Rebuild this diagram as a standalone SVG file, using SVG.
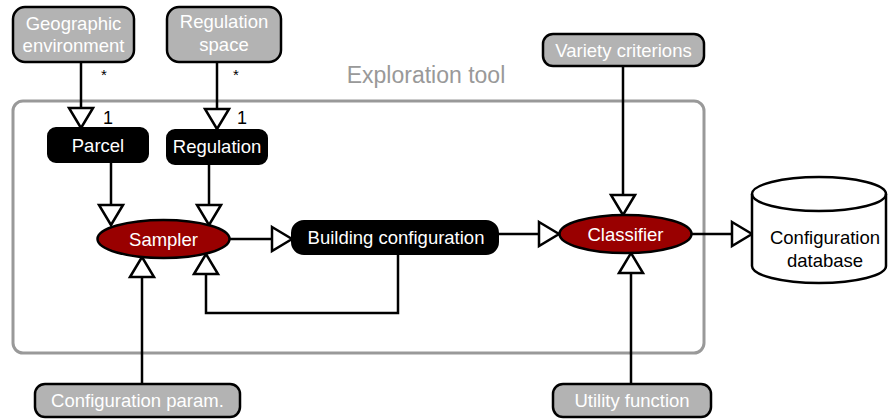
<svg xmlns="http://www.w3.org/2000/svg" width="888" height="419" viewBox="0 0 888 419">
<style>
text{font-family:"Liberation Sans",Arial,sans-serif;font-size:18.5px;text-anchor:middle}
.in rect{fill:#b3b3b3;stroke:#000;stroke-width:2.5}
.in text{fill:#fff}
.blk rect{fill:#000;stroke:#000;stroke-width:2}
.blk text{fill:#fff}
.proc ellipse{fill:#990000;stroke:#000;stroke-width:2.5}
.proc text{fill:#fff}
.conn path{fill:none;stroke:#000;stroke-width:2.5;marker-end:url(#tri)}
.lbl{fill:#000}
</style>
<defs>
<marker id="tri" markerUnits="userSpaceOnUse" markerWidth="30" markerHeight="30" viewBox="-3 -3 26 30" refX="20" refY="12" orient="auto" overflow="visible">
<path d="M0,0 L20,12 L0,24 Z" fill="#fff" stroke="#000" stroke-width="2.5" stroke-linejoin="miter"/>
</marker>
</defs>
<rect id="exploration-tool" x="13" y="101" width="691" height="252" rx="10" fill="none" stroke="#999" stroke-width="3"/>
<text x="426" y="83" style="font-size:23px;fill:#999">Exploration tool</text>
<g class="conn" id="connectors">
<path d="M81,63 L81,128"/>
<path d="M217,63 L217,129"/>
<path d="M111,162 L111,225"/>
<path d="M209,164 L209,225"/>
<path d="M230,239 L292,239"/>
<path d="M498,234 L559,234"/>
<path d="M398,254 L398,313 L206,313 L206,254"/>
<path d="M142,384 L142,257"/>
<path d="M623,66 L623,215"/>
<path d="M631,384 L631,253"/>
<path d="M692,234 L752,234"/>
<text class="lbl" x="104" y="80" style="font-size:15px">*</text>
<text class="lbl" x="236" y="80" style="font-size:15px">*</text>
<text class="lbl" x="108" y="124" style="font-size:18px">1</text>
<text class="lbl" x="242" y="124" style="font-size:18px">1</text>
</g>
<g id="geographic-environment" class="in">
<rect x="13" y="7" width="121" height="55" rx="12"/>
<text x="73.5" y="30">Geographic</text>
<text x="73.5" y="52">environment</text>
</g>
<g id="regulation-space" class="in">
<rect x="167" y="7" width="114" height="55" rx="12"/>
<text x="224" y="28">Regulation</text>
<text x="224" y="51">space</text>
</g>
<g id="parcel" class="blk">
<rect x="48" y="128" width="100" height="34" rx="8"/>
<text x="98" y="152">Parcel</text>
</g>
<g id="regulation" class="blk">
<rect x="167" y="130" width="100" height="34" rx="8"/>
<text x="217" y="153">Regulation</text>
</g>
<g id="sampler" class="proc">
<ellipse cx="163.5" cy="239" rx="66" ry="19"/>
<text x="163.5" y="245.5">Sampler</text>
</g>
<g id="building-configuration" class="blk">
<rect x="292" y="221" width="206" height="33" rx="12"/>
<text x="396" y="244">Building configuration</text>
</g>
<g id="classifier" class="proc">
<ellipse cx="625.5" cy="234" rx="66" ry="19"/>
<text x="625.5" y="240.5">Classifier</text>
</g>
<g id="variety-criterions" class="in">
<rect x="543" y="34" width="161" height="32" rx="10"/>
<text x="623.5" y="57">Variety criterions</text>
</g>
<g id="configuration-param" class="in">
<rect x="35" y="384" width="205" height="33" rx="10"/>
<text x="137.5" y="407">Configuration param.</text>
</g>
<g id="utility-function" class="in">
<rect x="553" y="384" width="158" height="33" rx="10"/>
<text x="632" y="407">Utility function</text>
</g>
<g id="configuration-database">
<path d="M752,194 A67,17 0 0,1 886,194 L886,266 A67,17 0 0,1 752,266 Z" fill="#fff" stroke="#000" stroke-width="2.5"/>
<path d="M752,194 A67,17 0 0,0 886,194" fill="none" stroke="#000" stroke-width="2.5"/>
<text x="825" y="244">Configuration</text>
<text x="825" y="267">database</text>
</g>
</svg>
